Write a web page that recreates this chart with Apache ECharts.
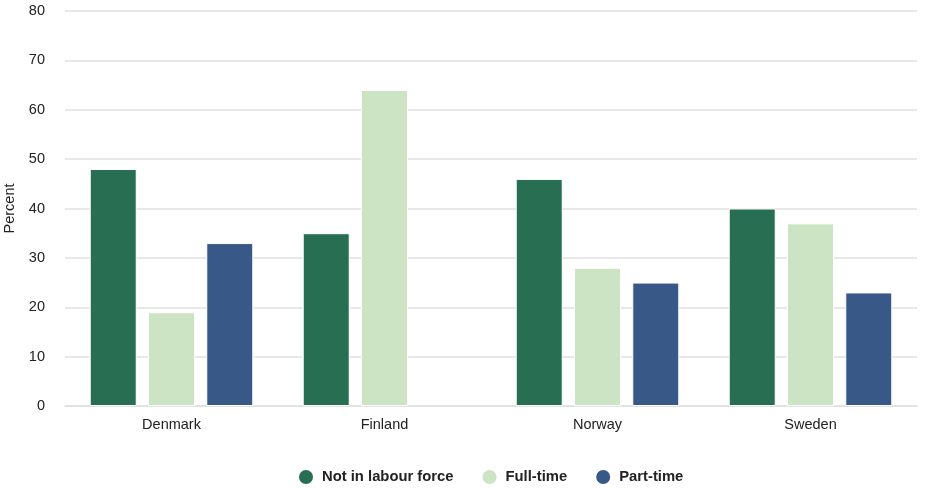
<!DOCTYPE html>
<html><head><meta charset="utf-8">
<script src="https://cdn.jsdelivr.net/npm/echarts@6/dist/echarts.min.js"></script>
<style>html,body{margin:0;padding:0;background:#fff}#c{width:932px;height:488px}</style>
</head><body><div id="c"></div>
<script>
const categories = ["Denmark", "Finland", "Norway", "Sweden"];
const notInLabourForce = [48, 35, 46, 40];
const fullTime = [19, 64, 28, 37];
const partTime = [33, null, 25, 23];
const seriesNames = ["Not in labour force", "Full-time", "Part-time"];
const colors = ["#276e52", "#cde4c4", "#385987"];

const chart = echarts.init(document.getElementById('c'));
const font = 'Arial, "Liberation Sans", sans-serif';
const mk = (name, data, color) => ({
  name, type: 'bar', data, barWidth: 47, barGap: '24%',
  itemStyle: { color, borderColor: '#fff', borderWidth: 1 }
});
chart.setOption({
  animation: false,
  color: colors,
  grid: { left: 65, right: 15, top: 11, bottom: 82, containLabel: false, outerBoundsMode: 'none' },
  legend: {
    top: 463, left: 292, icon: 'circle', itemWidth: 22, itemHeight: 16, itemGap: 27,
    textStyle: { fontFamily: font, fontSize: 14.8, fontWeight: 'bold', color: '#222' },
    data: seriesNames
  },
  xAxis: {
    type: 'category', data: categories,
    axisLine: { show: true, lineStyle: { color: '#e0e0e0', width: 1.5 } },
    axisTick: { show: false },
    axisLabel: { fontFamily: font, fontSize: 14.5, color: '#222', margin: 11 }
  },
  yAxis: {
    type: 'value', min: 0, max: 80, interval: 10,
    name: 'Percent', nameLocation: 'middle', nameGap: 44, nameRotate: 90,
    nameTextStyle: { fontFamily: font, fontSize: 14.5, color: '#222' },
    axisLine: { show: false }, axisTick: { show: false },
    axisLabel: { fontFamily: font, fontSize: 14.5, color: '#222', margin: 20 },
    splitLine: { lineStyle: { color: '#e0e0e0', width: 1.5 } }
  },
  series: [
    mk(seriesNames[0], notInLabourForce, colors[0]),
    mk(seriesNames[1], fullTime, colors[1]),
    mk(seriesNames[2], partTime, colors[2])
  ]
});
</script></body></html>
